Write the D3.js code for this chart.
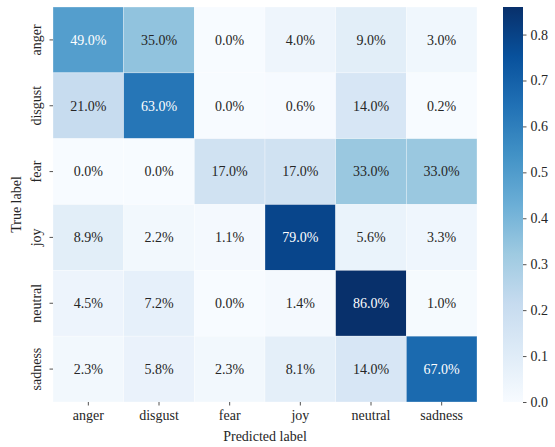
<!DOCTYPE html>
<html lang="en">
<head>
<meta charset="UTF-8">
<title>Confusion matrix</title>
<script src="https://d3js.org/d3.v7.min.js"></script>
<style>
  body { margin: 0; background: #fff; }
  svg text { font-family: "Liberation Serif", "Times New Roman", Times, serif !important; }
</style>
</head>
<body>
<div id="chart"></div>
<script>
// Data
const categories = ["anger", "disgust", "fear", "joy", "neutral", "sadness"];
const matrix = [
  [0.49, 0.35, 0.0, 0.04, 0.09, 0.03],
  [0.21, 0.63, 0.0, 0.006, 0.14, 0.002],
  [0.0, 0.0, 0.17, 0.17, 0.33, 0.33],
  [0.089, 0.022, 0.011, 0.79, 0.056, 0.033],
  [0.045, 0.072, 0.0, 0.014, 0.86, 0.01],
  [0.023, 0.058, 0.023, 0.081, 0.14, 0.67]
];
const colorTicks = [0.0, 0.1, 0.2, 0.3, 0.4, 0.5, 0.6, 0.7, 0.8];
const vmax = 0.86;

const width = 555, height = 447;
const plotLeft = 53, plotTop = 7, plotRight = 477, plotBottom = 402;
const cbLeft = 503, cbRight = 523;
const serif = "'Liberation Serif', 'Times New Roman', serif";
const ink = "#262626";

const svg = d3.select("#chart").append("svg")
  .attr("width", width)
  .attr("height", height)
  .style("font-family", serif);

// matplotlib "Blues"
const blues = ["#f7fbff", "#deebf7", "#c6dbef", "#9ecae1", "#6baed6", "#4292c6", "#2171b5", "#08519c", "#08306b"];
const color = d3.scaleLinear()
  .domain(blues.map((_, i) => i / 8 * vmax))
  .range(blues)
  .interpolate(d3.interpolateRgb)
  .clamp(true);

const x = d3.scaleBand().domain(categories).range([plotLeft, plotRight]);
const y = d3.scaleBand().domain(categories).range([plotTop, plotBottom]);

function luminance(c) {
  const rgb = d3.rgb(c);
  const f = v => { v /= 255; return v <= 0.03928 ? v / 12.92 : Math.pow((v + 0.055) / 1.055, 2.4); };
  return 0.2126 * f(rgb.r) + 0.7152 * f(rgb.g) + 0.0722 * f(rgb.b);
}

const cells = [];
matrix.forEach((row, i) => row.forEach((v, j) => cells.push({ t: categories[i], p: categories[j], v })));

svg.append("g").selectAll("rect")
  .data(cells)
  .join("rect")
  .attr("x", d => x(d.p))
  .attr("y", d => y(d.t))
  .attr("width", x.bandwidth())
  .attr("height", y.bandwidth())
  .attr("fill", d => color(d.v))
  .attr("stroke", "#ffffff")
  .attr("stroke-opacity", 0.5)
  .attr("stroke-width", 0.6);

svg.append("g").selectAll("text")
  .data(cells)
  .join("text")
  .attr("x", d => x(d.p) + x.bandwidth() / 2)
  .attr("y", d => y(d.t) + y.bandwidth() / 2)
  .attr("dy", "0.35em")
  .attr("text-anchor", "middle")
  .attr("font-size", 14)
  .style("fill", d => luminance(color(d.v)) > 0.408 ? ink : "#ffffff")
  .text(d => (d.v * 100).toFixed(1) + "%");

// Axes
const xAxis = svg.append("g")
  .attr("transform", `translate(0,${plotBottom})`)
  .call(d3.axisBottom(x).tickSize(3.5).tickPadding(5));
const yAxis = svg.append("g")
  .attr("transform", `translate(${plotLeft},0)`)
  .call(d3.axisLeft(y).tickSize(3.5).tickPadding(5));
[xAxis, yAxis].forEach(a => {
  a.attr("font-family", serif);
  a.select(".domain").remove();
  a.selectAll("line").attr("stroke", ink).attr("stroke-width", 0.8);
  a.selectAll("text").attr("font-size", 14).style("fill", ink);
});
yAxis.selectAll("text")
  .attr("transform", "rotate(-90)")
  .attr("x", 0)
  .attr("y", -12)
  .attr("dy", 0)
  .attr("text-anchor", "middle");

svg.append("text")
  .attr("x", (plotLeft + plotRight) / 2)
  .attr("y", 441)
  .attr("text-anchor", "middle")
  .attr("font-size", 14)
  .style("fill", ink)
  .text("Predicted label");

svg.append("text")
  .attr("transform", `translate(21,${(plotTop + plotBottom) / 2}) rotate(-90)`)
  .attr("text-anchor", "middle")
  .attr("font-size", 14)
  .style("fill", ink)
  .text("True label");

// Colorbar
const cbScale = d3.scaleLinear().domain([0, vmax]).range([plotBottom, plotTop]);
const defs = svg.append("defs");
const grad = defs.append("linearGradient")
  .attr("id", "cbgrad")
  .attr("x1", 0).attr("y1", 1).attr("x2", 0).attr("y2", 0);
grad.selectAll("stop")
  .data(blues)
  .join("stop")
  .attr("offset", (_, i) => i / 8)
  .attr("stop-color", d => d);

svg.append("rect")
  .attr("x", cbLeft)
  .attr("y", plotTop)
  .attr("width", cbRight - cbLeft)
  .attr("height", plotBottom - plotTop)
  .attr("fill", "url(#cbgrad)");

const cbAxis = svg.append("g")
  .attr("transform", `translate(${cbRight},0)`)
  .attr("font-family", serif)
  .call(d3.axisRight(cbScale).tickValues(colorTicks).tickFormat(d3.format(".1f")).tickSize(3.5).tickPadding(4));
cbAxis.select(".domain").remove();
cbAxis.selectAll("line").attr("stroke", ink).attr("stroke-width", 0.8);
cbAxis.selectAll("text").attr("font-size", 14).style("fill", ink);
</script>
</body>
</html>
